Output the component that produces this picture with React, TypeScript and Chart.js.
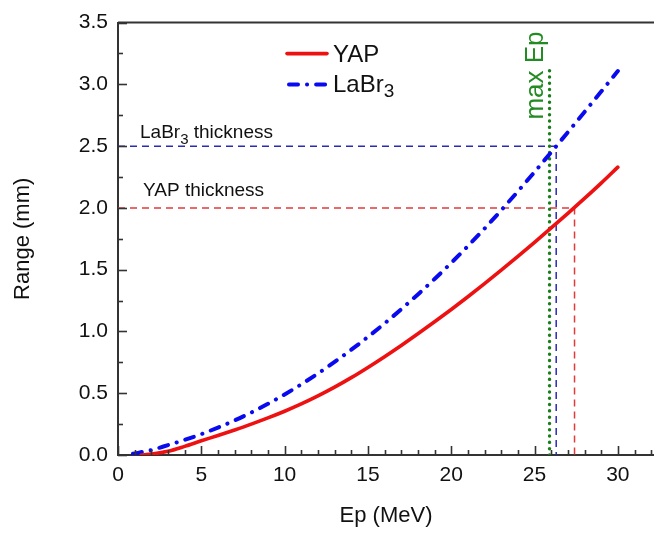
import React, { useEffect, useRef } from 'react';
import { Chart, registerables } from 'chart.js';

Chart.register(...registerables);

// ---- data ----
const yapEnergy = [1.4, 2, 3, 4, 5, 6, 7, 8, 9, 10, 11, 12, 13, 14, 15, 16, 17, 18, 19, 20, 21, 22, 23, 24, 25, 26, 27, 28, 29, 30];
const yapRange = [0.0, 0.008, 0.03, 0.07, 0.115, 0.158, 0.203, 0.25, 0.3, 0.354, 0.413, 0.478, 0.549, 0.626, 0.709, 0.796, 0.887, 0.981, 1.078, 1.178, 1.281, 1.387, 1.496, 1.608, 1.722, 1.838, 1.956, 2.077, 2.201, 2.33];

const labrEnergy = [0.9, 2, 3, 4, 5, 6, 7, 8, 9, 10, 11, 12, 13, 14, 15, 16, 17, 18, 19, 20, 21, 22, 23, 24, 25, 26, 27, 28, 29, 30];
const labrRange = [0.01, 0.04, 0.08, 0.122, 0.169, 0.222, 0.28, 0.344, 0.414, 0.49, 0.572, 0.66, 0.753, 0.852, 0.956, 1.065, 1.18, 1.3, 1.425, 1.555, 1.691, 1.833, 1.981, 2.134, 2.291, 2.451, 2.613, 2.777, 2.942, 3.108];

const xTickValues = [0, 5, 10, 15, 20, 25, 30];
const yTickValues = [0, 0.5, 1.0, 1.5, 2.0, 2.5, 3.0, 3.5];
const xMinorValues = [1, 2, 3, 4, 6, 7, 8, 9, 11, 12, 13, 14, 16, 17, 18, 19, 21, 22, 23, 24, 26, 27, 28, 29, 31, 32];
const yMinorValues = [0.25, 0.75, 1.25, 1.75, 2.25, 2.75, 3.25];

const maxEp = 25.9;
const maxEpTop = 3.12;
const yapThickness = 2.0;
const yapCrossEnergy = 27.4;
const labrThickness = 2.5;
const labrCrossEnergy = 26.3;

const FONT = "'Liberation Sans', Arial, Helvetica, sans-serif";
const AXIS_COLOR = '#333333';
const TEXT_COLOR = '#111111';

const framePlugin = {
  id: 'frameAndNotes',
  afterDatasetsDraw(chart: any) {
    const { ctx, chartArea, scales } = chart;
    const xs = scales.x;
    const ys = scales.y;
    ctx.save();

    // top frame line
    ctx.strokeStyle = AXIS_COLOR;
    ctx.lineWidth = 2;
    ctx.beginPath();
    ctx.moveTo(chartArea.left, chartArea.top);
    ctx.lineTo(chartArea.right, chartArea.top);
    ctx.stroke();

    // inward ticks
    ctx.lineWidth = 1.6;
    const drawX = (v: number, len: number) => {
      const px = Math.round(xs.getPixelForValue(v)) + 0.5;
      ctx.beginPath();
      ctx.moveTo(px, chartArea.bottom);
      ctx.lineTo(px, chartArea.bottom - len);
      ctx.stroke();
    };
    const drawY = (v: number, len: number) => {
      const py = Math.round(ys.getPixelForValue(v)) + 0.5;
      ctx.beginPath();
      ctx.moveTo(chartArea.left, py);
      ctx.lineTo(chartArea.left + len, py);
      ctx.stroke();
    };
    xTickValues.forEach((v) => drawX(v, 9));
    xMinorValues.forEach((v) => drawX(v, 5));
    yTickValues.forEach((v) => drawY(v, 9));
    yMinorValues.forEach((v) => drawY(v, 5));

    // legend
    const lx0 = chartArea.left + 169;
    const lx1 = chartArea.left + 209;
    const ly1 = chartArea.top + 31;
    const ly2 = chartArea.top + 62;
    ctx.lineCap = 'round';
    ctx.strokeStyle = '#ee1111';
    ctx.lineWidth = 3.6;
    ctx.setLineDash([]);
    ctx.beginPath();
    ctx.moveTo(lx0, ly1);
    ctx.lineTo(lx1, ly1);
    ctx.stroke();
    ctx.strokeStyle = '#0a0af0';
    ctx.lineWidth = 4;
    ctx.setLineDash([9, 9, 0.1, 9]);
    ctx.beginPath();
    ctx.moveTo(lx0 + 2, ly2);
    ctx.lineTo(lx1, ly2);
    ctx.stroke();
    ctx.setLineDash([]);

    ctx.fillStyle = TEXT_COLOR;
    ctx.textAlign = 'left';
    ctx.textBaseline = 'alphabetic';
    ctx.font = `24px ${FONT}`;
    ctx.fillText('YAP', lx1 + 6, ly1 + 8);
    ctx.fillText('LaBr', lx1 + 6, ly2 + 7);
    const wLa = ctx.measureText('LaBr').width;
    ctx.font = `19px ${FONT}`;
    ctx.fillText('3', lx1 + 6 + wLa, ly2 + 12);

    // thickness labels
    const yL = ys.getPixelForValue(labrThickness);
    const yY = ys.getPixelForValue(yapThickness);
    ctx.font = `19px ${FONT}`;
    const tx = chartArea.left + 22;
    ctx.fillText('LaBr', tx, yL - 8);
    const w1 = ctx.measureText('LaBr').width;
    ctx.font = `15px ${FONT}`;
    ctx.fillText('3', tx + w1, yL - 2);
    const w2 = ctx.measureText('3').width;
    ctx.font = `19px ${FONT}`;
    ctx.fillText(' thickness', tx + w1 + w2, yL - 8);
    ctx.fillText('YAP thickness', tx + 3, yY - 12);

    // max Ep label
    const gx = xs.getPixelForValue(maxEp);
    ctx.save();
    ctx.translate(gx - 7, chartArea.top + 97);
    ctx.rotate(-Math.PI / 2);
    ctx.fillStyle = '#228b22';
    ctx.font = `26px ${FONT}`;
    ctx.fillText('max Ep', 0, 0);
    ctx.restore();

    ctx.restore();
  },
};

export default function App() {
  const canvasRef = useRef<HTMLCanvasElement | null>(null);

  useEffect(() => {
    document.body.style.margin = '0';
    const canvas = canvasRef.current;
    if (!canvas) return;

    const chart = new Chart(canvas, {
      type: 'line',
      data: {
        datasets: [
          {
            label: 'YAP',
            data: yapEnergy.map((e, i) => ({ x: e, y: yapRange[i] })),
            borderColor: '#ee1111',
            borderWidth: 3.6,
            pointRadius: 0,
            cubicInterpolationMode: 'monotone',
            borderCapStyle: 'round',
          },
          {
            label: 'LaBr3',
            data: labrEnergy.map((e, i) => ({ x: e, y: labrRange[i] })),
            borderColor: '#0a0af0',
            borderWidth: 4,
            borderDash: [9, 9, 0.1, 9],
            borderCapStyle: 'round',
            pointRadius: 0,
            cubicInterpolationMode: 'monotone',
          },
          {
            label: 'max Ep',
            data: [
              { x: maxEp, y: 0 },
              { x: maxEp, y: maxEpTop },
            ],
            borderColor: '#1a7f1a',
            borderWidth: 3.4,
            borderDash: [0.1, 6.2],
            borderCapStyle: 'round',
            pointRadius: 0,
          },
          {
            label: 'LaBr3 thickness',
            data: [
              { x: 0, y: labrThickness },
              { x: labrCrossEnergy, y: labrThickness },
              { x: labrCrossEnergy, y: 0 },
            ],
            borderColor: '#2a2ab8',
            borderWidth: 1.5,
            borderDash: [7, 5],
            pointRadius: 0,
          },
          {
            label: 'YAP thickness',
            data: [
              { x: 0, y: yapThickness },
              { x: yapCrossEnergy, y: yapThickness },
              { x: yapCrossEnergy, y: 0 },
            ],
            borderColor: '#e23a3a',
            borderWidth: 1.5,
            borderDash: [7, 5],
            pointRadius: 0,
          },
        ],
      },
      options: {
        animation: false,
        responsive: true,
        maintainAspectRatio: false,
        layout: { padding: { top: 18, right: 0, left: 0, bottom: 0 } },
        plugins: {
          legend: { display: false },
          tooltip: { enabled: false },
          title: { display: false },
        },
        scales: {
          x: {
            type: 'linear',
            min: 0,
            max: 32.17,
            afterBuildTicks: (s: any) => {
              s.ticks = xTickValues.map((v) => ({ value: v }));
            },
            afterFit: (s: any) => {
              s.height = 81;
            },
            grid: { display: false, drawTicks: false },
            border: { display: true, color: AXIS_COLOR, width: 2 },
            ticks: {
              color: TEXT_COLOR,
              font: { family: FONT, size: 21 },
              padding: 8,
              maxRotation: 0,
              autoSkip: false,
              callback: (v: any) => String(v),
            },
            title: {
              display: true,
              text: 'Ep (MeV)',
              color: TEXT_COLOR,
              font: { family: FONT, size: 22 },
              padding: { top: 0, bottom: 7 },
            },
          },
          y: {
            type: 'linear',
            min: 0,
            max: 3.5,
            afterBuildTicks: (s: any) => {
              s.ticks = yTickValues.map((v) => ({ value: v }));
            },
            afterFit: (s: any) => {
              s.width = 118;
            },
            grid: { display: false, drawTicks: false },
            border: { display: true, color: AXIS_COLOR, width: 2 },
            ticks: {
              color: TEXT_COLOR,
              font: { family: FONT, size: 21 },
              padding: 10,
              autoSkip: false,
              callback: (v: any) => Number(v).toFixed(1),
            },
            title: {
              display: true,
              text: 'Range (mm)',
              color: TEXT_COLOR,
              font: { family: FONT, size: 22 },
              padding: { top: 10, bottom: 0 },
            },
          },
        },
      },
      plugins: [framePlugin],
    } as any);

    return () => {
      chart.destroy();
    };
  }, []);

  return (
    <div style={{ position: 'relative', width: 654, height: 536 }}>
      <canvas ref={canvasRef} />
    </div>
  );
}
